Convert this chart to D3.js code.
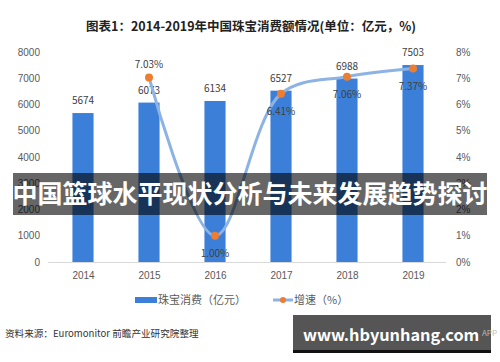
<!DOCTYPE html>
<html>
<meta charset="utf-8">
<style>
body { margin: 0; background: #fff; }
svg { font-family: "Noto Sans CJK SC", "Noto Sans", sans-serif; }
.axis text { fill: #595959; font-size: 10px; }
.axis path, .axis line { display: none; }
</style>
<body>
<script src="https://d3js.org/d3.v7.min.js"></script>
<script>
var years = ["2014", "2015", "2016", "2017", "2018", "2019"];
var sales = [5674, 6073, 6134, 6527, 6988, 7503];
var growth = [null, 7.03, 1.00, 6.41, 7.06, 7.37];
var leftTicks = [0, 1000, 2000, 3000, 4000, 5000, 6000, 7000, 8000];
var rightTicks = [0, 1, 2, 3, 4, 5, 6, 7, 8];

var width = 500, height = 362;
var plotTop = 52, plotBottom = 262;

var svg = d3.select("body").append("svg")
	.attr("width", width)
	.attr("height", height);

var x = d3.scalePoint().domain(years).range([50, 446]).padding(0.5);
var yL = d3.scaleLinear().domain([0, 8000]).range([plotBottom, plotTop]);
var yR = d3.scaleLinear().domain([0, 8]).range([plotBottom, plotTop]);
var barW = x.step() * 0.32;

// title
svg.append("text")
	.attr("x", 251).attr("y", 31)
	.attr("text-anchor", "middle")
	.attr("font-size", "12.5px")
	.attr("font-weight", "bold")
	.style("fill", "#222")
	.text("图表1：2014-2019年中国珠宝消费额情况(单位：亿元，%)");

// axes
svg.append("g").attr("class", "axis")
	.attr("transform", "translate(40,0)")
	.call(d3.axisLeft(yL).tickValues(leftTicks).tickSize(0).tickPadding(0).tickFormat(d3.format("d")));

svg.append("g").attr("class", "axis")
	.attr("transform", "translate(456,0)")
	.call(d3.axisRight(yR).tickValues(rightTicks).tickSize(0).tickPadding(0).tickFormat(function(d) { return d + "%"; }));

svg.append("g").attr("class", "axis")
	.attr("transform", "translate(0," + (plotBottom + 6) + ")")
	.call(d3.axisBottom(x).tickSize(0).tickPadding(4));

svg.append("line")
	.attr("x1", 48).attr("x2", 446)
	.attr("y1", plotBottom + 0.5).attr("y2", plotBottom + 0.5)
	.style("stroke", "#d9d9d9");

// bars
var data = years.map(function(y, i) { return {year: y, sales: sales[i], growth: growth[i]}; });

svg.selectAll(".bar").data(data).enter().append("rect")
	.attr("class", "bar")
	.attr("x", function(d) { return x(d.year) - barW / 2; })
	.attr("width", barW)
	.attr("y", function(d) { return yL(d.sales); })
	.attr("height", function(d) { return plotBottom - yL(d.sales); })
	.style("fill", "#3b7fd9");

svg.selectAll(".barlabel").data(data).enter().append("text")
	.attr("x", function(d) { return x(d.year); })
	.attr("y", function(d) { return yL(d.sales) - 9; })
	.attr("text-anchor", "middle")
	.attr("font-size", "10px")
	.style("fill", "#404040")
	.text(function(d) { return d.sales; });

// growth line
var gdata = data.filter(function(d) { return d.growth !== null; });
var line = d3.line()
	.x(function(d) { return x(d.year); })
	.y(function(d) { return yR(d.growth); })
	.curve(d3.curveCatmullRom.alpha(0.5));

svg.append("path")
	.attr("d", line(gdata))
	.style("fill", "none")
	.style("stroke", "#8db3e4")
	.style("stroke-width", 3)
	.style("stroke-linecap", "round");

svg.selectAll(".dot").data(gdata).enter().append("circle")
	.attr("cx", function(d) { return x(d.year); })
	.attr("cy", function(d) { return yR(d.growth); })
	.attr("r", 4)
	.style("fill", "#ed7d31");

// growth labels: above for first, below for others
var labelDy = {"2015": -9, "2016": 21, "2017": 21, "2018": 21, "2019": 21};
svg.selectAll(".glabel").data(gdata).enter().append("text")
	.attr("x", function(d) { return x(d.year); })
	.attr("y", function(d) { return yR(d.growth) + labelDy[d.year]; })
	.attr("text-anchor", "middle")
	.attr("font-size", "10px")
	.style("fill", "#404040")
	.text(function(d) { return d.growth.toFixed(2) + "%"; });

// legend
var lg = svg.append("g").attr("transform", "translate(0,300)");
lg.append("rect").attr("x", 135).attr("y", -3).attr("width", 22).attr("height", 6).style("fill", "#3b7fd9");
lg.append("text").attr("x", 158).attr("y", 4).attr("font-size", "11px").style("fill", "#595959").text("珠宝消费（亿元）");
lg.append("line").attr("x1", 273).attr("x2", 293).attr("y1", 0).attr("y2", 0).style("stroke", "#8db3e4").style("stroke-width", 3);
lg.append("circle").attr("cx", 283).attr("cy", 0).attr("r", 3).style("fill", "#ed7d31");
lg.append("text").attr("x", 294).attr("y", 4).attr("font-size", "11px").style("fill", "#595959").text("增速（%）");

// source
svg.append("text")
	.attr("x", 5).attr("y", 337)
	.attr("font-size", "9.6px")
	.style("fill", "#333")
	.text("资料来源：Euromonitor  前瞻产业研究院整理");

// overlay banners
svg.append("rect")
	.attr("x", 13).attr("y", 173).attr("width", 474).attr("height", 42)
	.style("fill", "rgba(0,0,0,0.6)");
svg.append("text")
	.attr("x", 250).attr("y", 203)
	.attr("text-anchor", "middle")
	.attr("font-size", "25px")
	.attr("font-weight", "bold")
	.style("fill", "#fff")
	.text("中国篮球水平现状分析与未来发展趋势探讨");

svg.append("rect")
	.attr("x", 293).attr("y", 315).attr("width", 198).attr("height", 38)
	.style("fill", "rgba(70,70,70,0.92)");
svg.append("rect")
	.attr("x", 293).attr("y", 350).attr("width", 198).attr("height", 3)
	.style("fill", "#111");
svg.append("text")
	.attr("x", 303).attr("y", 341)
	.attr("font-size", "16.3px")
	.attr("font-weight", "bold")
	.style("fill", "#fff")
	.text("www.hbyunhang.com");
svg.append("text")
	.attr("x", 497).attr("y", 336)
	.attr("text-anchor", "end")
	.attr("font-size", "8px")
	.style("fill", "#bbb")
	.text("APP");
</script>
</body>
</html>
